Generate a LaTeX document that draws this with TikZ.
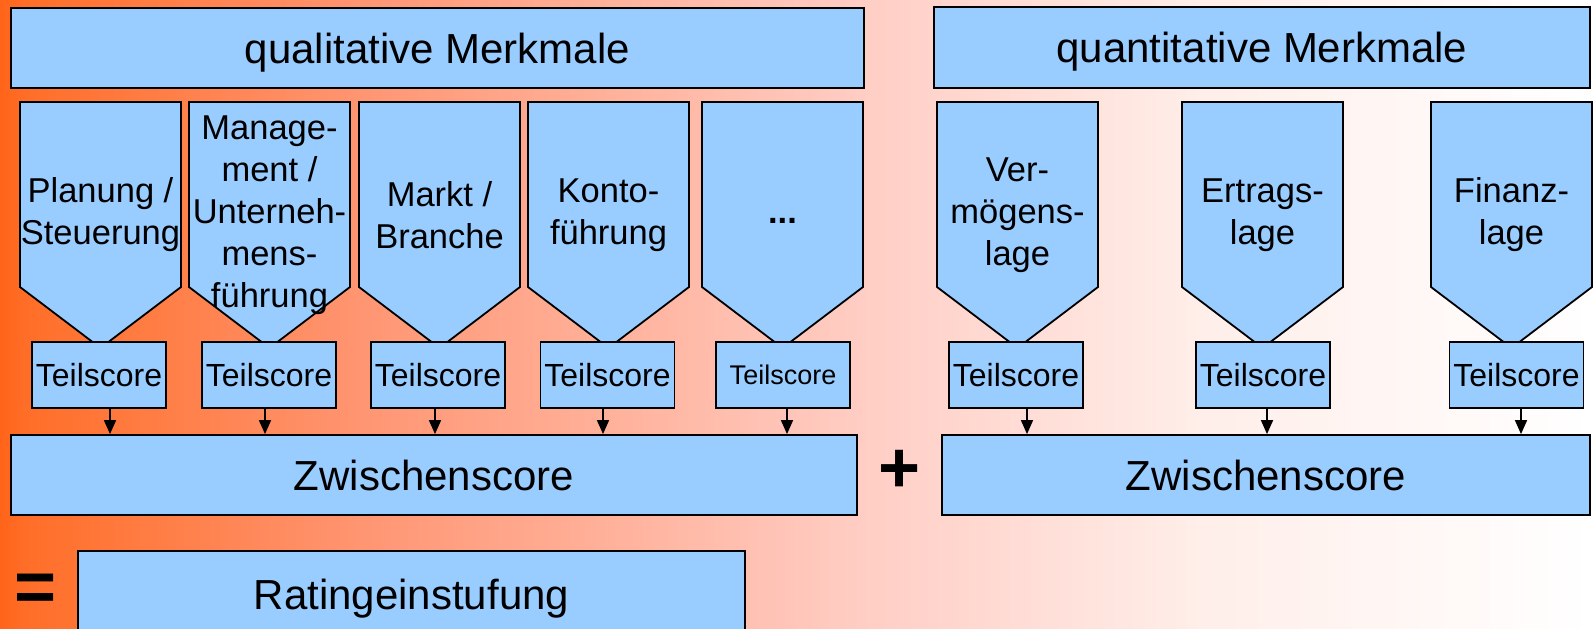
\documentclass[tikz,border=0pt]{standalone}
\usepackage{fontspec}
\setmainfont{Liberation Sans}
\usetikzlibrary{arrows.meta}

\definecolor{boxblue}{RGB}{153,204,255}
\definecolor{bgA}{RGB}{255,100,25}
\definecolor{bgB}{RGB}{255,110,40}
\definecolor{bgC}{RGB}{255,148,112}
\definecolor{bgD}{RGB}{255,205,196}
\definecolor{bgE}{RGB}{255,238,233}

\tikzset{
  blockbox/.style={draw=black, fill=boxblue, line width=1.8pt, inner sep=0pt, text depth=0pt, font=\fontsize{42}{50}\selectfont},
  scorebox/.style={blockbox, minimum width=134pt, minimum height=66pt, font=\fontsize{32}{38}\selectfont},
  pentline/.style={draw=black, fill=boxblue, line width=1.8pt},
  pentext/.style={align=center, inner sep=0pt, font=\fontsize{34.5}{42}\selectfont},
  scorearrow/.style={line width=1.6pt, -{Triangle[length=14pt,width=12pt]}},
  signtext/.style={inner sep=0pt, font=\fontsize{72}{80}\selectfont\bfseries}
}

\begin{document}
\begin{tikzpicture}[x=1pt,y=-1pt]
	\clip (0,0) rectangle (1593,629);
	\useasboundingbox (0,0) rectangle (1593,629);
	% background
	\shade [left color=bgA, right color=bgB] (0,0) rectangle (26,629);
	\shade [left color=bgB, right color=bgC] (25,0) rectangle (351,629);
	\shade [left color=bgC, right color=bgD] (350,0) rectangle (861,629);
	\shade [left color=bgD, right color=bgE] (860,0) rectangle (1201,629);
	\shade [left color=bgE, right color=white] (1200,0) rectangle (1593,629);
	% headers
	\node [blockbox, minimum width=853pt, minimum height=80pt] (qual) at (437.5,48) {qualitative Merkmale};
	\node [blockbox, minimum width=656pt, minimum height=81pt] (quant) at (1262,47.5) {quantitative Merkmale};
	% criteria
	\foreach \px in {20,189,359,528,702,937,1182,1431}
		\draw [pentline] (\px,102) -- ++(161,0) -- ++(0,185) -- ++(-80.5,61) -- ++(-80.5,-61) -- cycle;
	\node [pentext] (plan) at (100.5,215) {Planung /\\Steuerung};
	\node [pentext] (mgmt) at (269.5,215) {Manage-\\ment /\\Unterneh-\\mens-\\führung};
	\node [pentext] (markt) at (439.5,215) {Markt /\\Branche};
	\node [pentext] (konto) at (608.5,215) {Konto-\\führung};
	\node [pentext] (etc) at (782.5,215) {\textbf{...}\vphantom{Pg}};
	\node [pentext] (verm) at (1017.5,215) {Ver-\\mögens-\\lage};
	\node [pentext] (ertrag) at (1262.5,215) {Ertrags-\\lage};
	\node [pentext] (finanz) at (1511.5,215) {Finanz-\\lage};
	% scores
	\node [scorebox] (ts1) at (99,375) {Teilscore};
	\node [scorebox] (ts2) at (269,375) {Teilscore};
	\node [scorebox] (ts3) at (438,375) {Teilscore};
	\node [scorebox] (ts4) at (607.5,375) {Teilscore};
	\node [scorebox, font=\fontsize{27}{32}\selectfont] (ts5) at (783,375) {Teilscore};
	\node [scorebox] (ts6) at (1016,375) {Teilscore};
	\node [scorebox] (ts7) at (1263,375) {Teilscore};
	\node [scorebox] (ts8) at (1516.5,375) {Teilscore};
	\node [blockbox, minimum width=846pt, minimum height=80pt] (zleft) at (434,475) {Zwischenscore};
	\node [blockbox, minimum width=648pt, minimum height=80pt] (zright) at (1266,475) {Zwischenscore};
	\foreach \ts/\dx in {ts1/11,ts2/-4,ts3/-3,ts4/-4.5,ts5/4}
		\draw [scorearrow] ([xshift=\dx pt]\ts.south) -- ([xshift=\dx pt]\ts.south |- zleft.north);
	\foreach \ts/\dx in {ts6/11,ts7/4,ts8/4.5}
		\draw [scorearrow] ([xshift=\dx pt]\ts.south) -- ([xshift=\dx pt]\ts.south |- zright.north);
	\node [signtext] (plus) at (900,471) {+};
	% result
	\node [signtext] (equals) at (36,593) {=};
	\node [blockbox, minimum width=667pt, minimum height=86pt] (rating) at (411.5,594) {Ratingeinstufung};
\end{tikzpicture}
\end{document}
